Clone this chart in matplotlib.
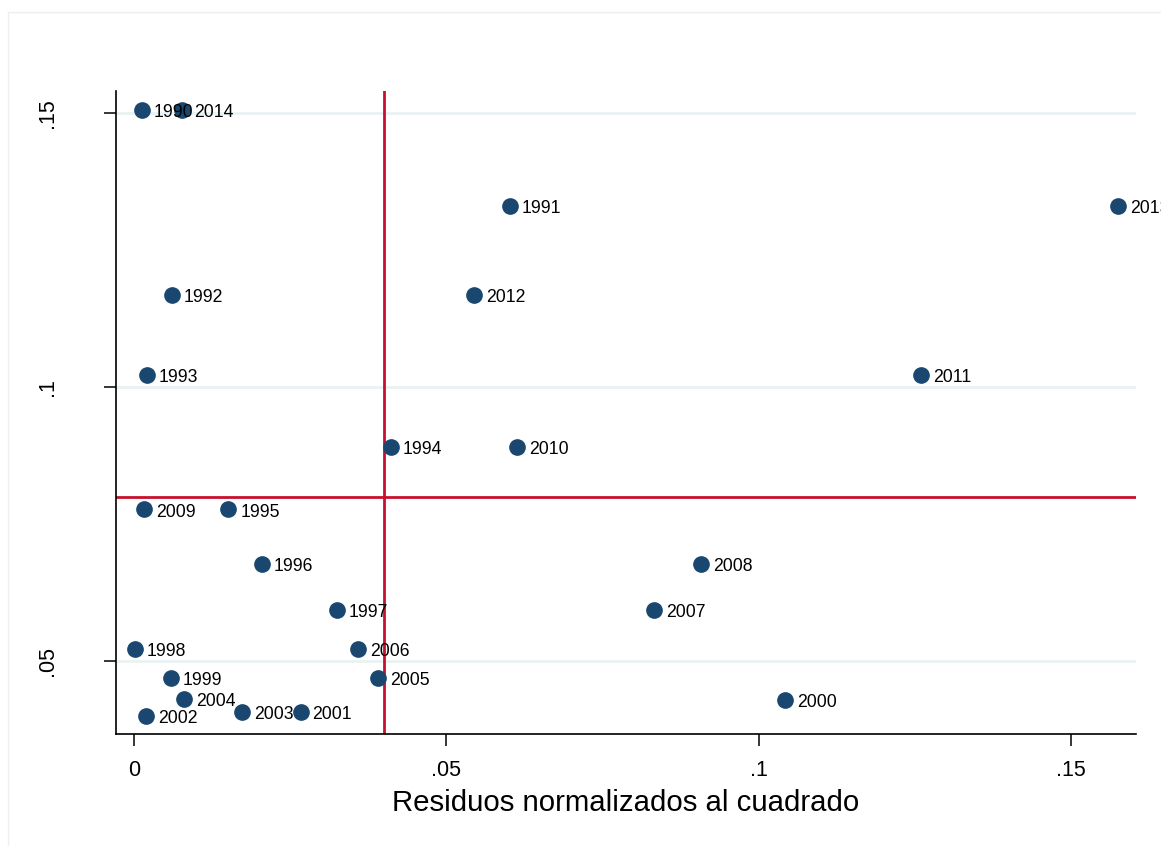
import matplotlib.pyplot as plt
from matplotlib.patches import Rectangle

plt.rcParams['font.family'] = ['Liberation Sans', 'DejaVu Sans']

# residuos normalizados al cuadrado (x) y leverage (y) por año
years = [1990, 1991, 1992, 1993, 1994, 1995, 1996, 1997, 1998, 1999, 2000, 2001, 2002,
         2003, 2004, 2005, 2006, 2007, 2008, 2009, 2010, 2011, 2012, 2013, 2014]
resid2 = [0.0013, 0.0602, 0.0061, 0.0021, 0.0411, 0.0151, 0.0205, 0.0325, 0.0002, 0.0059,
          0.1042, 0.0267, 0.0019, 0.0173, 0.0080, 0.0391, 0.0359, 0.0833, 0.0908, 0.0016,
          0.0613, 0.1260, 0.0544, 0.1575, 0.0077]
leverage = [0.1505, 0.1330, 0.1168, 0.1022, 0.0891, 0.0777, 0.0677, 0.0593, 0.0522, 0.0469,
            0.0429, 0.0407, 0.0400, 0.0407, 0.0431, 0.0469, 0.0522, 0.0593, 0.0677, 0.0777,
            0.0891, 0.1022, 0.1168, 0.1330, 0.1505]
mean_resid2 = 0.04
mean_lev = 0.08

xticks = [0, 0.05, 0.1, 0.15]
xtick_labels = ['0', '.05', '.1', '.15']
yticks = [0.05, 0.1, 0.15]
ytick_labels = ['.05', '.1', '.15']

navy = '#1a476f'
red = '#c8102e'

fig = plt.figure(figsize=(11.61, 8.46), dpi=100)
fig.patches.append(Rectangle((8 / 1161, -0.1), 1.2, 1 - 12 / 846 + 0.1,
                             transform=fig.transFigure, fill=False,
                             edgecolor='#eeeeee', linewidth=1))
ax = fig.add_axes([116 / 1161, 1 - 734 / 846, (1136 - 116) / 1161, (734 - 91) / 846])

for y in yticks:
    ax.axhline(y, color='#eaf2f3', linewidth=2, zorder=0)
ax.axvline(mean_resid2, color=red, linewidth=2, zorder=1)
ax.axhline(mean_lev, color=red, linewidth=2, zorder=1)

ax.plot(resid2, leverage, 'o', color=navy, markersize=11, linestyle='none', zorder=3)
for yr, x, y in zip(years, resid2, leverage):
    ax.annotate(str(yr), (x, y), xytext=(8.5, -2), textcoords='offset points',
                fontsize=12.7, va='center', ha='left', annotation_clip=False, zorder=4)

ax.set_xlim(-0.00288, 0.1604)
ax.set_ylim(0.0367, 0.154)
ax.set_xticks(xticks)
ax.set_xticklabels(xtick_labels)
ax.set_yticks(yticks)
ax.set_yticklabels(ytick_labels, rotation=90, va='center')
ax.tick_params(axis='both', direction='out', length=8.6, width=1.1, labelsize=15.5)
ax.tick_params(axis='x', pad=10)
ax.tick_params(axis='y', pad=33)

for s in ['top', 'right']:
    ax.spines[s].set_visible(False)
for s in ['left', 'bottom']:
    ax.spines[s].set_linewidth(1.2)

ax.set_xlabel('Residuos normalizados al cuadrado', fontsize=21.2, labelpad=6)

fig.savefig('out.png', dpi=100)
